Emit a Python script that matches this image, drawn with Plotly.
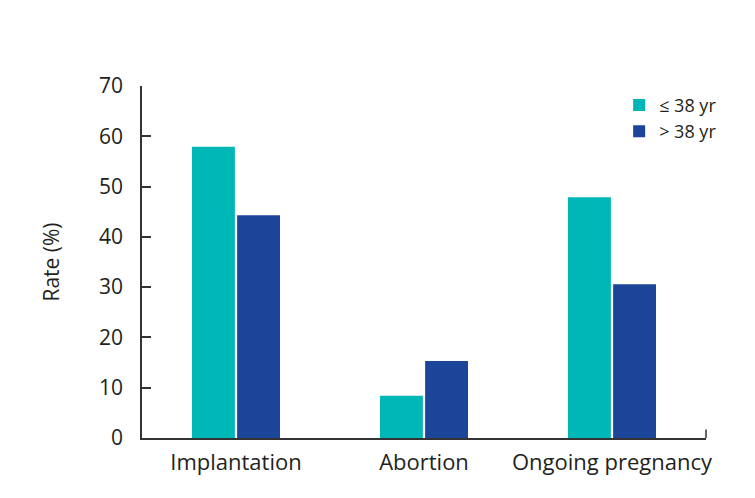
import plotly.graph_objects as go

categories = ["Implantation", "Abortion", "Ongoing pregnancy"]
series_names = ["≤ 38 yr", "> 38 yr"]
young_values = [57.9, 8.4, 47.9]
old_values = [44.3, 15.3, 30.6]
y_ticks = [0, 10, 20, 30, 40, 50, 60, 70]
colors = ["#00B7B7", "#1B4599"]

FONT = "Open Sans"
TXT = "#231F20"

fig = go.Figure()
for name, vals, col in zip(series_names, [young_values, old_values], colors):
    fig.add_trace(go.Bar(x=categories, y=vals, name=name, marker=dict(color=col, line=dict(width=0))))

# page body has an 8px default margin; figure sized/margined to compensate
fig.update_layout(
    width=747, height=490,
    margin=dict(l=134, r=49, t=78, b=60),
    paper_bgcolor="white", plot_bgcolor="white",
    barmode="group", bargap=0.52, bargroupgap=0.05,
    font=dict(family=FONT, color=TXT, size=20),
    legend=dict(x=0.846, y=0.998, xanchor="left", yanchor="top",
                font=dict(size=18, family=FONT, color=TXT),
                itemwidth=30, tracegroupgap=0, bgcolor="rgba(0,0,0,0)"),
    showlegend=True,
)
fig.update_xaxes(
    showline=True, linecolor="#333333", linewidth=1.5, ticks="", showgrid=False,
    tickfont=dict(size=22, family=FONT, color=TXT), ticklabelstandoff=4,
)
fig.update_yaxes(
    range=[0, 70], tickvals=y_ticks, showline=True, linecolor="#333333", linewidth=1.5,
    ticks="inside", ticklen=9, tickcolor="#333333", tickwidth=1.5, showgrid=False, zeroline=False,
    tickfont=dict(size=21, family=FONT, color=TXT), ticklabelstandoff=13,
    title=dict(text="Rate (%)", font=dict(size=21, family=FONT, color=TXT), standoff=34),
)
fig.add_shape(type="line", xref="paper", yref="paper", x0=1, x1=1, y0=0, y1=0.024,
              line=dict(color="#333333", width=1.5))
fig.write_html("out.html")
